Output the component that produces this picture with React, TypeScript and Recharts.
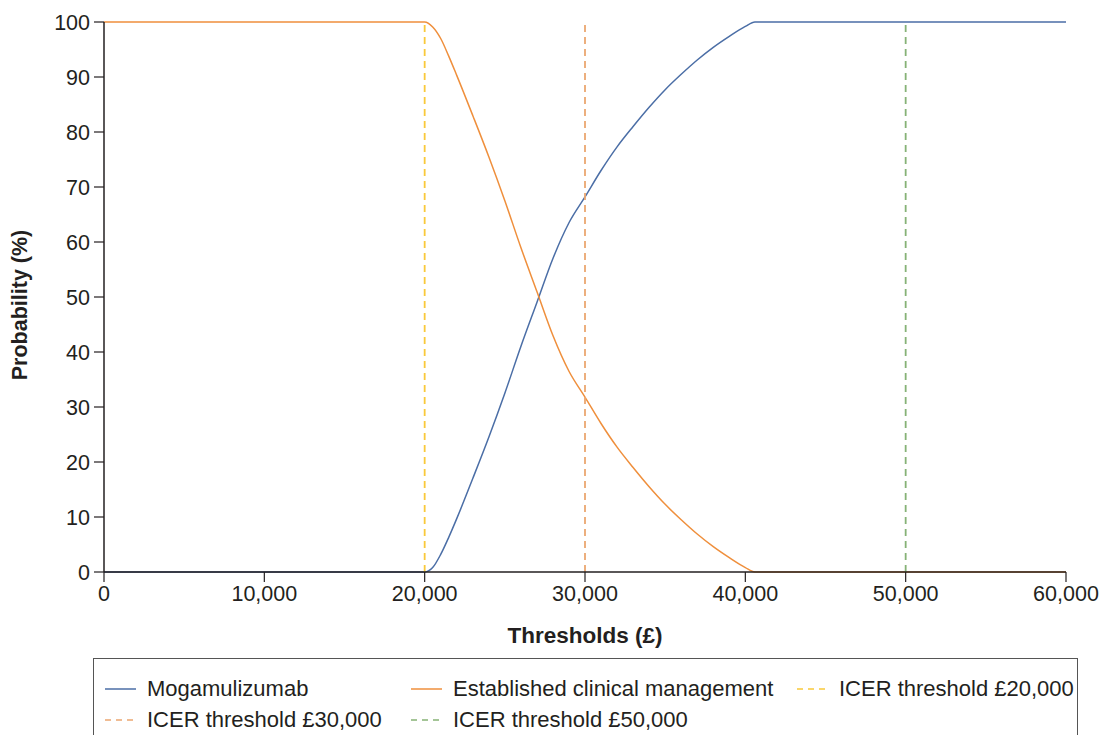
import React from "react";
import { LineChart, Line, XAxis, YAxis, ReferenceLine, Legend } from "recharts";

const thresholds = [0, 20000, 20500, 21000, 21500, 22000, 23000, 24000, 25000, 26000, 27000, 28000, 29000, 30000, 31000, 32000, 33000, 34000, 35000, 36000, 37000, 38000, 39000, 40000, 40600, 60000];
const mogamulizumab = [0, 0, 0.8, 3.2, 6.3, 9.7, 17, 24.5, 32.5, 41, 49, 57, 63.5, 68.2, 73, 77.3, 81, 84.5, 87.7, 90.5, 93.1, 95.4, 97.4, 99.2, 100, 100];
const established = [100, 100, 99.1, 97, 93.8, 90.3, 83, 75.5, 67.5, 59, 51, 43, 36.5, 31.8, 27, 22.7, 19, 15.5, 12.3, 9.5, 6.9, 4.6, 2.6, 0.8, 0, 0];

const xTicks = [0, 10000, 20000, 30000, 40000, 50000, 60000];
const yTicks = [0, 10, 20, 30, 40, 50, 60, 70, 80, 90, 100];
const icerThresholds = [20000, 30000, 50000];

const seriesNames = ["Mogamulizumab", "Established clinical management"];
const icerNames = ["ICER threshold £20,000", "ICER threshold £30,000", "ICER threshold £50,000"];

const BLUE = "#4b6ea6";
const ORANGE = "#ef8f3c";
const ICER_COLORS = ["#f9c93a", "#eba770", "#86b276"];
const FONT = "'Liberation Sans', Arial, Helvetica, sans-serif";
const TEXT = "#231f20";

const data = thresholds.map((x, i) => ({ x, m: mogamulizumab[i], e: established[i] }));

const legendItems = [
  { name: seriesNames[0], color: BLUE, dashed: false },
  { name: seriesNames[1], color: ORANGE, dashed: false },
  { name: icerNames[0], color: ICER_COLORS[0], dashed: true },
  { name: icerNames[1], color: ICER_COLORS[1], dashed: true },
  { name: icerNames[2], color: ICER_COLORS[2], dashed: true },
];

const itemLefts = [11, 317, 703, 11, 317];
const itemRows = [0, 0, 0, 1, 1];

const LegendBox = () => (
  <div
    style={{
      position: "relative",
      width: 985,
      height: 90,
      border: "1px solid #555",
      boxSizing: "border-box",
      background: "#fff",
      fontFamily: FONT,
      fontSize: 22,
      color: TEXT,
    }}
  >
    {legendItems.map((it, i) => (
      <div
        key={it.name}
        style={{
          position: "absolute",
          left: itemLefts[i],
          top: 17 + itemRows[i] * 31,
          display: "flex",
          alignItems: "center",
          whiteSpace: "nowrap",
          lineHeight: "26px",
        }}
      >
        <svg width={31} height={10} style={{ marginRight: 11 }}>
          <line
            x1={0}
            y1={5}
            x2={31}
            y2={5}
            stroke={it.color}
            strokeWidth={1.5}
            strokeDasharray={it.dashed ? "6 5" : undefined}
          />
        </svg>
        <span>{it.name}</span>
      </div>
    ))}
  </div>
);

const YLabel = (props: any) => {
  const vb = props.viewBox;
  const cx = 12;
  const cy = vb.y + vb.height / 2 + 8;
  return (
    <text
      x={cx}
      y={cy}
      transform={`rotate(-90, ${cx}, ${cy})`}
      textAnchor="middle"
      dominantBaseline="central"
      fontFamily={FONT}
      fontSize={21.5}
      fontWeight="bold"
      fill={TEXT}
    >
      Probability (%)
    </text>
  );
};

const XLabel = (props: any) => {
  const vb = props.viewBox;
  return (
    <text
      x={vb.x + vb.width / 2}
      y={vb.y + 63}
      textAnchor="middle"
      dominantBaseline="central"
      fontFamily={FONT}
      fontSize={22.5}
      fontWeight="bold"
      fill={TEXT}
    >
      Thresholds (£)
    </text>
  );
};

export default function App() {
  return (
    <div style={{ width: 1091, height: 727, position: "relative", overflow: "visible" }}>
      <style>{`body{margin:8px 0 0 8px !important;} .recharts-surface{overflow:visible !important;} .recharts-wrapper{overflow:visible !important;}`}</style>
      <LineChart
        width={1091}
        height={727}
        data={data}
        margin={{ top: 14, right: 33, left: 36, bottom: 83 }}
      >
        <XAxis
          dataKey="x"
          type="number"
          domain={[0, 60000]}
          ticks={xTicks}
          interval={0}
          height={80}
          tickSize={10}
          tickMargin={4}
          tickFormatter={(v: number) => v.toLocaleString("en-GB")}
          axisLine={{ stroke: TEXT, strokeWidth: 1.5 }}
          tickLine={{ stroke: TEXT, strokeWidth: 1.2 }}
          tick={{ fill: TEXT, fontSize: 21.5, fontFamily: FONT }}
          label={{ content: XLabel }}
        />
        <YAxis
          type="number"
          domain={[0, 100]}
          ticks={yTicks}
          interval={0}
          width={60}
          tickSize={10}
          tickMargin={4}
          axisLine={{ stroke: TEXT, strokeWidth: 1.5 }}
          tickLine={{ stroke: TEXT, strokeWidth: 1.2 }}
          tick={{ fill: TEXT, fontSize: 21.5, fontFamily: FONT }}
          label={{ content: YLabel }}
        />
        <Line
          type="monotone"
          dataKey="m"
          name={seriesNames[0]}
          stroke={BLUE}
          strokeWidth={1.5}
          dot={false}
          activeDot={false}
          isAnimationActive={false}
        />
        <Line
          type="monotone"
          dataKey="e"
          name={seriesNames[1]}
          stroke={ORANGE}
          strokeWidth={1.5}
          dot={false}
          activeDot={false}
          isAnimationActive={false}
        />
        {icerThresholds.map((t, i) => (
          <ReferenceLine
            key={t}
            x={t}
            stroke={ICER_COLORS[i]}
            strokeWidth={1.8}
            strokeDasharray="7 5"
          />
        ))}
        <Legend
          layout="horizontal"
          verticalAlign="middle"
          align="center"
          content={LegendBox}
          wrapperStyle={{ position: "absolute", left: 85, top: 650, width: 985 }}
        />
      </LineChart>
    </div>
  );
}
